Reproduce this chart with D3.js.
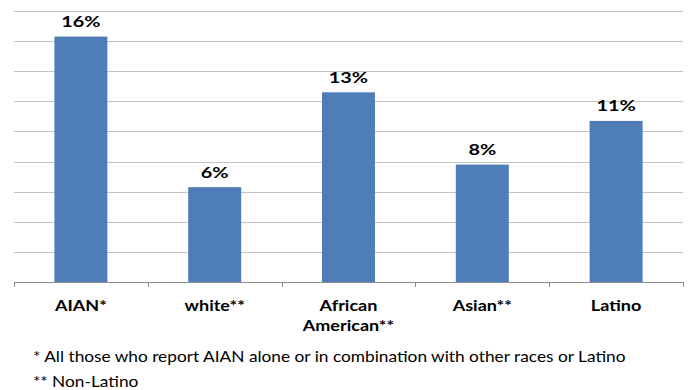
<!DOCTYPE html>
<html>
<head>
<meta charset="utf-8">
<script src="https://cdn.jsdelivr.net/npm/d3@7"></script>
<style>
  html, body { margin: 0; padding: 0; background: #fff; }
  svg { display: block; }
</style>
</head>
<body>
<svg id="chart" width="688" height="390"></svg>
<script>
const categories = [["AIAN*"], ["white**"], ["African", "American**"], ["Asian**"], ["Latino"]];
const values = [16.3, 6.3, 12.6, 7.8, 10.7];
const yTicks = [0, 2, 4, 6, 8, 10, 12, 14, 16, 18];
const footnotes = [
  "* All those who report AIAN alone or in combination with other races or Latino",
  "** Non-Latino"
];

const svg = d3.select("#chart");
const plotLeft = 14, plotRight = 683, plotTop = 11, plotBottom = 282;

const keys = categories.map(c => c.join(" "));
const x = d3.scaleBand().domain(keys).range([plotLeft, plotRight]).paddingInner(0.604).paddingOuter(0.302);
const y = d3.scaleLinear().domain([0, 18]).range([plotBottom, plotTop]);

// stretch text horizontally to mimic the wider original face
function stretch(sel, k) {
  sel.each(function () {
    const w = this.getComputedTextLength();
    d3.select(this).attr("textLength", w * k).attr("lengthAdjust", "spacingAndGlyphs");
  });
}

// gridlines
svg.append("g")
  .selectAll("line")
  .data(yTicks.filter(t => t > 0))
  .join("line")
  .attr("x1", plotLeft).attr("x2", plotRight)
  .attr("y1", d => Math.round(y(d)) + 0.5).attr("y2", d => Math.round(y(d)) + 0.5)
  .attr("stroke", "#c4c4c4").attr("stroke-width", 1);

// bars
svg.append("g")
  .selectAll("rect")
  .data(values)
  .join("rect")
  .attr("x", (d, i) => x(keys[i]))
  .attr("y", d => y(d))
  .attr("width", x.bandwidth())
  .attr("height", d => plotBottom - y(d))
  .attr("fill", "#4f7db7");

// x axis
const step = x.step();
const axis = svg.append("g");
axis.append("line")
  .attr("x1", plotLeft).attr("x2", plotRight)
  .attr("y1", plotBottom + 0.5).attr("y2", plotBottom + 0.5)
  .attr("stroke", "#8c8c8c");
axis.selectAll("line.tick")
  .data(d3.range(keys.length + 1))
  .join("line").attr("class", "tick")
  .attr("x1", i => Math.round(plotLeft + i * step) + 0.5)
  .attr("x2", i => Math.round(plotLeft + i * step) + 0.5)
  .attr("y1", plotBottom).attr("y2", plotBottom + 5)
  .attr("stroke", "#8c8c8c");

// value labels
svg.append("g")
  .selectAll("text")
  .data(values)
  .join("text")
  .attr("x", (d, i) => x(keys[i]) + x.bandwidth() / 2)
  .attr("y", d => y(d) - 9.5)
  .attr("text-anchor", "middle")
  .attr("font-family", "Lato, sans-serif")
  .attr("font-weight", "bold")
  .attr("font-size", 15.5)
  .attr("fill", "#000")
  .text(d => Math.round(d) + "%")
  .call(stretch, 1.28);

// category labels
const cat = svg.append("g");
categories.forEach((lines, i) => {
  const cx = x(keys[i]) + x.bandwidth() / 2;
  lines.forEach((l, j) => {
    cat.append("text")
      .attr("x", cx)
      .attr("y", 311 + j * 20)
      .attr("text-anchor", "middle")
      .attr("font-family", "Lato, sans-serif")
      .attr("font-weight", "bold")
      .attr("font-size", 15)
      .attr("fill", "#000")
      .text(l)
      .call(stretch, 1.2);
  });
});

// footnotes
svg.append("g")
  .selectAll("text")
  .data(footnotes)
  .join("text")
  .attr("x", 33)
  .attr("y", (d, i) => 361.5 + i * 25.5)
  .attr("font-family", "Lato, sans-serif")
  .attr("font-size", 16)
  .attr("fill", "#000")
  .text(d => d)
  .call(stretch, 1.08);
</script>
</body>
</html>
